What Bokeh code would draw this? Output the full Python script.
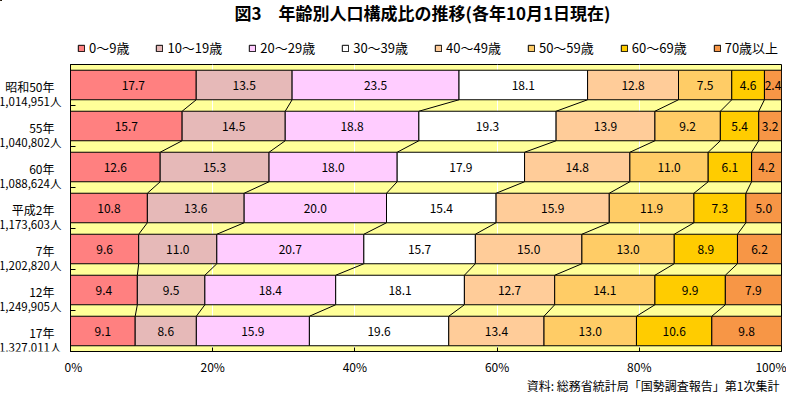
from bokeh.plotting import figure
from bokeh.layouts import column, row
from bokeh.models import ColumnDataSource, FixedTicker, Legend, LegendItem, Label, Range1d
from bokeh.core.properties import value
from bokeh.embed import file_html
from bokeh.resources import INLINE

FONT = "Noto Sans CJK JP"

title_text = "図3　年齢別人口構成比の推移(各年10月1日現在)"
source_text = "資料: 総務省統計局「国勢調査報告」第1次集計"
years = ["昭和50年", "55年", "60年", "平成2年", "7年", "12年", "17年"]
populations = ["1,014,951人", "1,040,802人", "1,088,624人", "1,173,603人",
               "1,202,820人", "1,249,905人", "1,327,011人"]
age_groups = ["0～9歳", "10～19歳", "20～29歳", "30～39歳",
              "40～49歳", "50～59歳", "60～69歳", "70歳以上"]
age_0_9 = [17.7, 15.7, 12.6, 10.8, 9.6, 9.4, 9.1]
age_10_19 = [13.5, 14.5, 15.3, 13.6, 11.0, 9.5, 8.6]
age_20_29 = [23.5, 18.8, 18.0, 20.0, 20.7, 18.4, 15.9]
age_30_39 = [18.1, 19.3, 17.9, 15.4, 15.7, 18.1, 19.6]
age_40_49 = [12.8, 13.9, 14.8, 15.9, 15.0, 12.7, 13.4]
age_50_59 = [7.5, 9.2, 11.0, 11.9, 13.0, 14.1, 13.0]
age_60_69 = [4.6, 5.4, 6.1, 7.3, 8.9, 9.9, 10.6]
age_70_up = [2.4, 3.2, 4.2, 5.0, 6.2, 7.9, 9.8]
x_ticks = [0, 20, 40, 60, 80, 100]
x_tick_labels = ["0%", "20%", "40%", "60%", "80%", "100%"]
colors = ["#FF8080", "#E6B9B8", "#FFCCFF", "#FFFFFF",
          "#FFCC99", "#FFCC66", "#FFCC00", "#F79646"]

series = [age_0_9, age_10_19, age_20_29, age_30_39,
          age_40_49, age_50_59, age_60_69, age_70_up]
n = len(years)
ypos = [n - 1 - i for i in range(n)]
BAR_H = 0.72

W = 786
HEAD_H = 64
LEFT_W = 64
FRAME_H = 289
BOTTOM_B = 24
FOOT_H = 392 - HEAD_H - FRAME_H - BOTTOM_B


def bare(fig):
    fig.axis.visible = False
    fig.grid.visible = False
    fig.outline_line_color = None
    fig.background_fill_color = "white"
    fig.border_fill_color = "white"
    return fig


# cumulative boundaries (normalized to 100%)
totals = [sum(s[i] for s in series) for i in range(n)]
cums = []
for i in range(n):
    c = [0.0]
    for s in series:
        c.append(c[-1] + s[i] / totals[i] * 100.0)
    cums.append(c)

y_range = Range1d(-0.5, n - 0.5)

# ---------------- main chart ----------------
p = figure(title=None, width=W - LEFT_W, height=FRAME_H + BOTTOM_B,
           x_range=Range1d(0, 100), y_range=y_range,
           output_backend="svg", toolbar_location=None,
           min_border_left=0, min_border_right=5, min_border_top=0,
           min_border_bottom=BOTTOM_B)
p.background_fill_color = "#FFFF99"
p.border_fill_color = "white"
p.outline_line_color = "black"
p.outline_line_width = 1

p.xgrid.ticker = FixedTicker(ticks=[20, 40, 60, 80])
p.xgrid.grid_line_color = "white"
p.xgrid.grid_line_width = 1
p.ygrid.grid_line_color = None

# connector (series) lines
sx0, sy0, sx1, sy1 = [], [], [], []
for i in range(n - 1):
    for k in range(1, len(series)):
        sx0.append(cums[i][k]); sy0.append(ypos[i] - BAR_H / 2)
        sx1.append(cums[i + 1][k]); sy1.append(ypos[i + 1] + BAR_H / 2)
p.segment(x0=sx0, y0=sy0, x1=sx1, y1=sy1, line_color="black", line_width=1)

for g, (name, s, col) in enumerate(zip(age_groups, series, colors)):
    left = [cums[i][g] for i in range(n)]
    right = [cums[i][g + 1] for i in range(n)]
    src = ColumnDataSource(dict(y=ypos, left=left, right=right,
                                mid=[(a + b) / 2 for a, b in zip(left, right)],
                                lab=[f"{v:.1f}" for v in s]))
    p.hbar(y="y", left="left", right="right", height=BAR_H, source=src,
           fill_color=col, line_color="black", line_width=1)
    p.text(x="mid", y="y", text="lab", source=src, text_align="center",
           text_baseline="middle", text_font_size="12px", text_font=value(FONT),
           text_color="black")

p.xaxis.ticker = FixedTicker(ticks=x_ticks)
p.xaxis.major_label_overrides = {t: l for t, l in zip(x_ticks, x_tick_labels)}
p.xaxis.major_tick_in = 4
p.xaxis.major_tick_out = 0
p.xaxis.minor_tick_line_color = None
p.xaxis.axis_line_color = "black"
p.xaxis.major_tick_line_color = "black"
p.xaxis.major_label_text_font = FONT
p.xaxis.major_label_text_font_size = "12px"
p.xaxis.major_label_text_color = "black"
p.xaxis.major_label_standoff = 6

p.yaxis.ticker = FixedTicker(ticks=ypos, minor_ticks=[v - 0.5 for v in range(n + 1)])
p.yaxis.major_label_overrides = {v: "" for v in ypos}
p.yaxis.major_tick_line_color = None
p.yaxis.minor_tick_line_color = "black"
p.yaxis.minor_tick_in = 5
p.yaxis.minor_tick_out = 0
p.yaxis.axis_line_color = "black"
p.yaxis.major_label_standoff = 0
p.yaxis.major_label_text_font_size = "1px"

# ---------------- category labels (left) ----------------
lp = bare(figure(title=None, width=LEFT_W, height=FRAME_H + BOTTOM_B,
                 x_range=Range1d(-LEFT_W, 0), y_range=y_range,
                 output_backend="svg", toolbar_location=None,
                 min_border_left=0, min_border_right=0, min_border_top=0,
                 min_border_bottom=BOTTOM_B))
lab_src = ColumnDataSource(dict(y=ypos, year=years, pop=populations))
lp.text(x=-10, y="y", text="year", source=lab_src, text_align="right",
        text_baseline="middle", y_offset=1, text_font=value(FONT),
        text_font_size="12px", text_color="black")
lp.text(x=-3, y="y", text="pop", source=lab_src, text_align="right",
        text_baseline="middle", y_offset=16, text_font=value(FONT),
        text_font_size="11.5px", text_color="black")

# ---------------- header: title + legend ----------------
hp = bare(figure(title=None, width=W, height=HEAD_H, x_range=Range1d(0, W),
                 y_range=Range1d(HEAD_H, 0), output_backend="svg", toolbar_location=None,
                 min_border_left=0, min_border_right=0, min_border_top=0,
                 min_border_bottom=0))
items = []
for name, col in zip(age_groups, colors):
    # placeholder bar kept outside the visible header range; only its legend swatch shows
    r = hp.hbar(y=[-50], left=[0], right=[1], height=1, fill_color=col,
                line_color="black", line_width=1)
    items.append(LegendItem(label=name, renderers=[r]))
legend = Legend(items=items, orientation="horizontal", location=(77, 7),
                glyph_width=8, glyph_height=8, label_height=14, label_standoff=4,
                spacing=26, padding=0, margin=0, border_line_color=None,
                background_fill_alpha=0, label_text_font=FONT,
                label_text_font_size="13px", label_text_color="black")
hp.add_layout(legend)
hp.add_layout(Label(x=422, y=12, text=title_text, text_align="center",
                    text_baseline="middle", text_font=FONT, text_font_size="17px",
                    text_font_style="bold", text_color="black"))

# ---------------- footer: source ----------------
fp = bare(figure(title=None, width=W, height=FOOT_H, x_range=Range1d(0, W),
                 y_range=Range1d(FOOT_H, 0), output_backend="svg", toolbar_location=None,
                 min_border_left=0, min_border_right=0, min_border_top=0,
                 min_border_bottom=0))
fp.add_layout(Label(x=779, y=FOOT_H / 2, text=source_text, text_align="right",
                    text_baseline="middle", text_font=FONT, text_font_size="12px",
                    text_color="black"))

layout = column(hp, row(lp, p), fp)
open("out.html", "w").write(file_html(layout, INLINE))
